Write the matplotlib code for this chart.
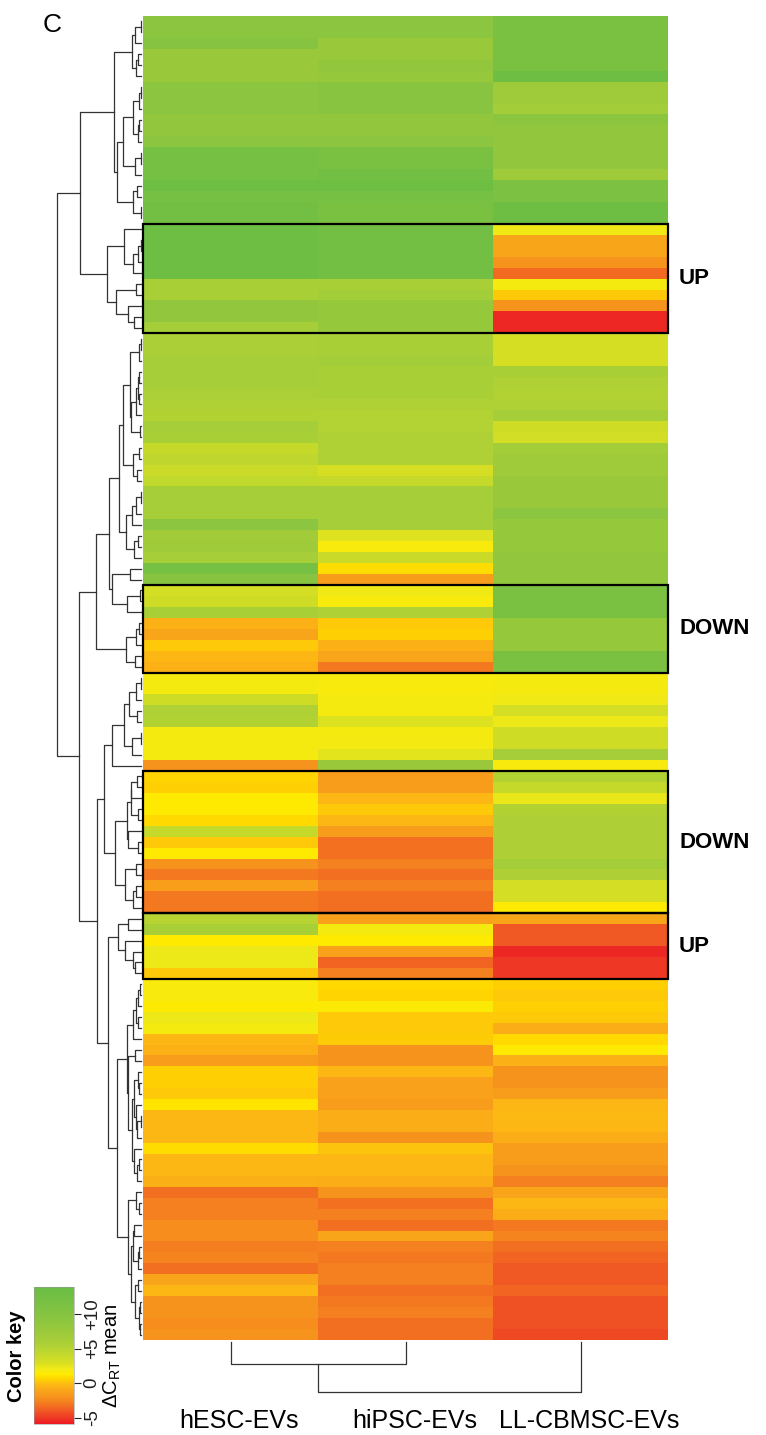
import numpy as np
import matplotlib
matplotlib.use("Agg")
import matplotlib.pyplot as plt
from matplotlib.colors import LinearSegmentedColormap
from matplotlib.patches import Rectangle
from matplotlib import transforms

plt.rcParams['font.family'] = ['Liberation Sans', 'DejaVu Sans']
plt.rcParams['mathtext.fontset'] = 'custom'
plt.rcParams['mathtext.rm'] = 'Liberation Sans'
plt.rcParams['mathtext.it'] = 'Liberation Sans:italic'

# mean delta Ct per miRNA (rows, top to bottom as drawn)
samples = ['hESC-EVs', 'hiPSC-EVs', 'LL-CBMSC-EVs']

hesc = [9, 9, 10, 7.5, 7.5, 7.5, 9, 9, 9, 8.5, 8.5, 9, 12, 12, 12, 13, 12, 12.5, 12.5,
        13, 13, 13, 13, 13, 6, 6, 8.5, 8.5, 6.3,
        5.8, 5.8, 6.3, 6.3, 6.3, 5.8, 5.5, 5.3, 6.3, 6, 4, 4.5, 3.8, 4.3, 6.3, 6.3, 6.3,
        9, 6.8, 7, 6.3, 12, 9.5,
        3.2, 3.5, 6, -0.5, -1, 0.3, -0.3, -0.5,
        1.8, 1.8, 3.5, 5.5, 5.3, 1.8, 1.8, 1.8, -2,
        0.6, 0.5, 1.3, 1.3, 0.8, 4, 0.3, 1.3, -2, -3, -1.4, -3, -3,
        5, 6, 1.3, 2.2, 2.2, 0.3,
        1.7, 1.7, 1.4, 2.2, 1.8, -0.3, -0.5, -1.5, 0.5, 0.5, 0.3, 1.1, -0.3, -0.3,
        -0.3, 0.9, -0.3, -0.3, -0.6, -3.3, -2.7, -2.7, -2.2, -2.2, -2.8, -2.5, -3.3,
        -1, -0.3, -2, -2, -2.2, -2]

hipsc = [9, 9, 7.5, 7.5, 8.5, 8, 9.5, 9.5, 9.5, 8.5, 8.5, 9, 11.5, 11.5, 12.5, 13, 12,
         11.5, 11.5,
         12.5, 12.5, 12.5, 12.5, 12.5, 6, 6.5, 8, 8, 8,
         6, 6, 6.5, 6, 6, 6, 5.5, 5.2, 5.2, 5.5, 5.5, 5.5, 3, 4, 6.3, 6.3, 6.3,
         6.3, 2.7, 1.7, 3.8, 0.9, -1.5,
         2, 1.7, 5.5, 0.3, 0.5, -0.5, -1, -3,
         1.7, 1.7, 1.8, 1.8, 2.8, 1.8, 1.9, 2.5, 7.5,
         -1.5, -1.5, -0.3, 0.3, -0.3, -1.5, -3.2, -3.2, -2.7, -3.3, -2.7, -3.3, -3.3,
         -1.2, 1.8, 1.3, -1.2, -3.6, -2.7,
         0.8, 0.6, 1.5, 0.3, 0.3, 0.4, -2, -2, -0.3, -1.2, -1.2, -1.5, -0.7, -0.7,
         -2, 0.2, -0.3, -0.3, -0.7, -2, -3.2, -2.7, -3.3, -1, -2.7, -3, -2.7,
         -2.7, -3.3, -3, -2.7, -3.3, -3.3]

llcbmsc = [11.5, 11.5, 11.5, 11.5, 11.5, 13, 7, 7, 6.5, 9, 8.5, 8.5, 8.5, 8.5, 7, 11,
           11, 13, 13,
           2, -1, -1, -2, -3.5, 1.8, 0.3, -2, -5.5, -5.5,
           3, 3, 3, 6, 5.5, 5.3, 5.5, 6.3, 3.5, 3.3, 6.5, 7, 7, 7.5, 7.5, 7.5, 9,
           8, 8, 8, 8.5, 8.5, 8.5,
           11.5, 11.5, 11.5, 8, 8, 8, 11.5, 11.5,
           1.8, 1.8, 2, 3.2, 2.2, 3.5, 3.5, 6.3, 1.7,
           5.3, 4, 2.3, 5.3, 5.6, 5.6, 5.6, 5.6, 6.5, 5.6, 3.2, 3.2, 1.3,
           -1, -4, -4, -5.5, -5, -5,
           0.5, 0.3, 0.5, 0.3, -0.7, 0.8, 1.3, -0.5, -2, -2, -1.5, -0.3, -0.2, -0.3,
           -0.7, -1.5, -1.5, -2, -2.7, -1, -0.3, -0.7, -3, -2.5, -3.3, -3.6, -4,
           -4, -3.6, -4.2, -4.2, -4.2, -4.5]

# highlighted row blocks (first row, last row, label)
box_first = [19, 52, 69, 82]
box_last = [28, 59, 81, 87]
box_labels = ['UP', 'DOWN', 'DOWN', 'UP']

key_ticks = [-5, 0, 5, 10]
key_ticklabels = ['-5', '0', '+5', '+10']

VMIN, VMAX = -5.9, 13.9
key_nodes = [(-5.9, '#ED1C24'), (-4, '#F15A24'), (-3, '#F47920'), (-2, '#F7941D'),
             (-1, '#FAA61A'), (0, '#FDBF12'), (0.6, '#FFD400'), (1.3, '#FFEB00'),
             (2, '#F2EA16'), (3, '#D7DF23'), (4, '#C6DA2B'), (5.3, '#B2D235'),
             (6.3, '#A6CE39'), (7.5, '#9BC93B'), (9, '#8DC63F'), (11.5, '#7AC143'),
             (13.9, '#6ABD45')]
cmap = LinearSegmentedColormap.from_list(
    'key', [((v - VMIN) / (VMAX - VMIN), c) for v, c in key_nodes])

data = np.column_stack([hesc, hipsc, llcbmsc]).astype(float)
nrows = data.shape[0]


def ordered_tree(X):
    # complete linkage, merging only neighbouring clusters so the drawn order is kept
    D = np.sqrt(((X[:, None, :] - X[None, :, :]) ** 2).sum(-1))
    clusters = [dict(members=[i], pos=float(i), h=0.0) for i in range(len(X))]
    segs = []
    while len(clusters) > 1:
        gaps = [D[np.ix_(a['members'], b['members'])].max()
                for a, b in zip(clusters[:-1], clusters[1:])]
        k = int(np.argmin(gaps))
        a, b = clusters[k], clusters[k + 1]
        h = max(gaps[k], a['h'], b['h'])
        segs.append(([a['h'], h, h, b['h']], [a['pos'], a['pos'], b['pos'], b['pos']]))
        clusters[k:k + 2] = [dict(members=a['members'] + b['members'],
                                  pos=(a['pos'] + b['pos']) / 2, h=h)]
    return segs, clusters[0]['h']


W, H = 766, 1435
fig = plt.figure(figsize=(W / 100, H / 100), dpi=100)


def px_axes(left, top, right, bottom):
    return fig.add_axes([left / W, 1 - bottom / H, (right - left) / W, (bottom - top) / H])


# heatmap
ax = px_axes(143, 16, 668, 1340)
im = ax.imshow(data, aspect='auto', cmap=cmap, vmin=VMIN, vmax=VMAX,
               interpolation='nearest')
ax.set_axis_off()

for first, last, lab in zip(box_first, box_last, box_labels):
    ax.add_patch(Rectangle((-0.5, first - 0.5), data.shape[1], last - first + 1,
                           fill=False, ec='black', lw=1.6, clip_on=False, zorder=5))
    ax.annotate(lab, xy=(1, (first + last) / 2), xycoords=('axes fraction', 'data'),
                xytext=(8, 0), textcoords='offset points', ha='left', va='center',
                fontsize=16, fontweight='bold')

# row dendrogram
rax = px_axes(57, 16, 141, 1340)
segs, top = ordered_tree(data)
for hs, ps in segs:
    rax.plot(hs, ps, color='#333333', lw=0.9, clip_on=False)
rax.set_ylim(nrows - 0.5, -0.5)
rax.set_xlim(top, 0)
rax.set_axis_off()

# column dendrogram
dax = px_axes(143, 1342, 668, 1392)
segs_c, top_c = ordered_tree(data.T)
for hs, ps in segs_c:
    dax.plot(ps, hs, color='#333333', lw=0.9, clip_on=False)
dax.set_xlim(-0.5, data.shape[1] - 0.5)
dax.set_ylim(top_c, 0)
dax.set_axis_off()

lab_tr = transforms.blended_transform_factory(ax.transData, fig.transFigure)
for i, s in enumerate(samples):
    ax.text(i + 0.05, 1 - 1421 / H, s, transform=lab_tr, ha='center', va='center',
            fontsize=18)

# colour key
kax = px_axes(34, 1287, 74, 1424)
cb = fig.colorbar(im, cax=kax, ticks=key_ticks)
cb.ax.set_yticklabels(key_ticklabels, rotation=90, va='center')
cb.ax.tick_params(length=5, width=0.8, labelsize=13.5, pad=2, colors='#222222')
cb.outline.set_linewidth(0.4)
cb.outline.set_edgecolor('#999999')
cb.set_label('ΔC$_{\\mathrm{RT}}$ mean', fontsize=14.5, labelpad=1)

fig.text(17 / W, 1 - 1356 / H, 'Color key', rotation=90, ha='center', va='center',
         fontsize=14.5, fontweight='bold')
fig.text(52 / W, 1 - 25 / H, 'C', ha='center', va='center', fontsize=19)

fig.savefig('out.png', dpi=100)
